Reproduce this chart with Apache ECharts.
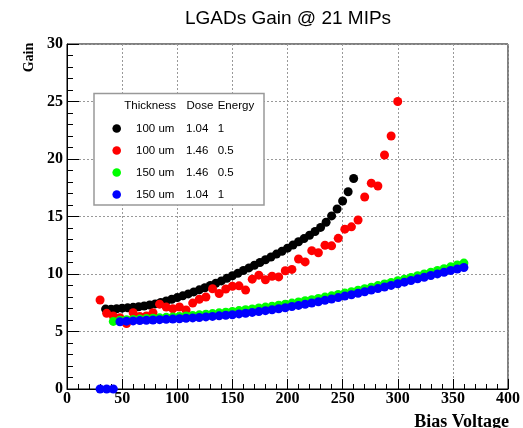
<!DOCTYPE html>
<html><head><meta charset="utf-8">
<script src="https://cdn.jsdelivr.net/npm/echarts@6/dist/echarts.min.js"></script>
<style>html,body{margin:0;padding:0;background:#fff}#c{width:523px;height:428px}</style>
</head><body><div id="c"></div><script>
// ---- data ----
const blackV = [35,40,45,50,55,60,65,70,75,80,85,90,95,100,105,110,115,120,125,130,135,140,145,150,155,160,165,170,175,180,185,190,195,200,205,210,215,220,225,230,235,240,245,250,255,260];
const blackG = [6.95,6.93,6.98,7.03,7.06,7.1,7.15,7.22,7.3,7.4,7.52,7.65,7.8,7.95,8.1,8.27,8.44,8.62,8.8,9.0,9.2,9.4,9.62,9.85,10.07,10.3,10.53,10.76,11.0,11.24,11.48,11.73,11.98,12.25,12.52,12.8,13.08,13.37,13.7,14.05,14.5,15.05,15.65,16.35,17.15,18.3];
const redV = [30,36,42,48,54,60,66,72,78,84,90,96,102,108,114,120,126,132,138,144,150,156,162,168,174,180,186,192,198,204,210,216,222,228,234,240,246,252,258,264,270,276,282,288,294,300];
const redG = [7.74,6.58,6.35,6.2,5.7,6.64,6.3,6.35,6.64,7.38,7.12,6.98,7.13,6.87,7.47,7.8,8.0,8.72,8.3,8.7,8.93,8.97,8.6,9.55,9.9,9.5,9.8,9.75,10.28,10.4,11.3,11.05,12.03,11.85,12.5,12.45,13.1,13.9,14.1,14.7,16.7,17.9,17.65,20.35,22.0,25.0];
const greenV = [42,48,54,60,66,72,78,84,90,96,102,108,114,120,126,132,138,144,150,156,162,168,174,180,186,192,198,204,210,216,222,228,234,240,246,252,258,264,270,276,282,288,294,300,306,312,318,324,330,336,342,348,354,360];
const greenG = [5.88,5.98,6.02,6.05,6.08,6.12,6.15,6.19,6.23,6.27,6.31,6.35,6.4,6.45,6.5,6.56,6.62,6.68,6.75,6.82,6.89,6.96,7.04,7.12,7.2,7.29,7.38,7.47,7.57,7.67,7.77,7.88,7.99,8.1,8.22,8.34,8.46,8.59,8.72,8.85,8.99,9.13,9.27,9.41,9.55,9.7,9.85,10.0,10.15,10.3,10.46,10.62,10.78,10.95];
const blueV = [30,36,42,48,54,60,66,72,78,84,90,96,102,108,114,120,126,132,138,144,150,156,162,168,174,180,186,192,198,204,210,216,222,228,234,240,246,252,258,264,270,276,282,288,294,300,306,312,318,324,330,336,342,348,354,360];
const blueG = [0,0,0,5.85,5.9,5.92,5.95,5.98,6.0,6.03,6.06,6.08,6.11,6.15,6.18,6.22,6.27,6.31,6.36,6.41,6.46,6.53,6.59,6.66,6.73,6.81,6.89,6.98,7.07,7.17,7.27,7.37,7.48,7.59,7.71,7.83,7.95,8.08,8.2,8.33,8.46,8.6,8.73,8.87,9.01,9.15,9.29,9.43,9.58,9.72,9.87,10.01,10.15,10.3,10.43,10.57];

const legendHeader = ['Thickness','Dose','Energy'];
const legendThickness = ['100 um','100 um','150 um','150 um'];
const legendDose = ['1.04','1.46','1.46','1.04'];
const legendEnergy = ['1','0.5','0.5','1'];
const seriesColors = ['#000000','#ff0000','#00ff00','#0000ff'];

const titleText = 'LGADs Gain @ 21 MIPs';
const xTitle = 'Bias Voltage';
const yTitle = 'Gain';

// ---- chart ----
const pairs = (v, g) => v.map((x, i) => [x, g[i]]);
const serif = '"Liberation Serif","Times New Roman",serif';
const sans = '"Liberation Sans",Arial,sans-serif';

const chart = echarts.init(document.getElementById('c'), null, {renderer: 'canvas'});

const axisCommon = {
  axisLine: {show: true, lineStyle: {color: '#000', width: 1}},
  axisTick: {show: true, inside: true, lineStyle: {color: '#000', width: 1}},
  minorTick: {show: true, splitNumber: 5, lineStyle: {color: '#000', width: 1}},
  splitLine: {show: true, lineStyle: {color: '#999', width: 1, type: [2, 2]}},
  minorSplitLine: {show: false},
  axisLabel: {color: '#000', fontFamily: serif, fontWeight: 'bold', fontSize: 16}
};

const graphics = [];
graphics.push({type: 'text', x: 288, y: 18.4, z: 100,
  style: {text: titleText, font: '19px ' + sans, fill: '#000', align: 'center', verticalAlign: 'middle'}});
graphics.push({type: 'text', x: 509, y: 422.5, z: 100,
  style: {text: xTitle, font: 'bold 18px ' + serif, fill: '#000', align: 'right', verticalAlign: 'middle'}});
graphics.push({type: 'text', x: 29.5, y: 57.5, rotation: Math.PI / 2, z: 100,
  style: {text: yTitle, font: 'bold 14px ' + serif, fill: '#000', align: 'center', verticalAlign: 'middle'}});
// legend box
graphics.push({type: 'rect', z: 100, shape: {x: 94, y: 93.5, width: 170, height: 111.5},
  style: {fill: '#fff', stroke: '#999', lineWidth: 1.5}});
const lf = '11.5px ' + sans;
const colX = [124.3, 186.5, 217.7];
legendHeader.forEach((t, i) => graphics.push({type: 'text', z: 101, x: colX[i], y: 106,
  style: {text: t, font: lf, fill: '#000', align: 'left', verticalAlign: 'middle'}}));
const rowY = [128.5, 150.5, 172.5, 194.5];
for (let r = 0; r < 4; r++) {
  graphics.push({type: 'circle', z: 101, shape: {cx: 116.7, cy: rowY[r], r: 4.3}, style: {fill: seriesColors[r]}});
  graphics.push({type: 'text', z: 101, x: 136, y: rowY[r], style: {text: legendThickness[r], font: lf, fill: '#000', align: 'left', verticalAlign: 'middle'}});
  graphics.push({type: 'text', z: 101, x: 186, y: rowY[r], style: {text: legendDose[r], font: lf, fill: '#000', align: 'left', verticalAlign: 'middle'}});
  graphics.push({type: 'text', z: 101, x: 217.7, y: rowY[r], style: {text: legendEnergy[r], font: lf, fill: '#000', align: 'left', verticalAlign: 'middle'}});
}

const mk = (name, v, g, color) => ({
  name, type: 'scatter', data: pairs(v, g), symbol: 'circle', symbolSize: 9,
  itemStyle: {color: color, opacity: 1}, emphasis: {disabled: true}, z: 5
});

chart.setOption({
  animation: false,
  backgroundColor: '#fff',
  grid: {left: 67, top: 44, width: 442, height: 345, show: true, borderColor: '#000', borderWidth: 1, backgroundColor: 'transparent'},
  xAxis: Object.assign({}, axisCommon, {
    type: 'value', min: 0, max: 400, interval: 50,
    axisTick: Object.assign({}, axisCommon.axisTick, {length: 10}),
    minorTick: Object.assign({}, axisCommon.minorTick, {length: 5}),
    axisLabel: Object.assign({}, axisCommon.axisLabel, {margin: 2})
  }),
  yAxis: Object.assign({}, axisCommon, {
    type: 'value', min: 0, max: 30, interval: 5,
    axisTick: Object.assign({}, axisCommon.axisTick, {length: 12}),
    minorTick: Object.assign({}, axisCommon.minorTick, {length: 6}),
    axisLabel: Object.assign({}, axisCommon.axisLabel, {margin: 4})
  }),
  series: [
    mk('100 um 1.04 1', blackV, blackG, seriesColors[0]),
    mk('100 um 1.46 0.5', redV, redG, seriesColors[1]),
    mk('150 um 1.46 0.5', greenV, greenG, seriesColors[2]),
    mk('150 um 1.04 1', blueV, blueG, seriesColors[3])
  ],
  graphic: {elements: graphics}
});
</script></body></html>
